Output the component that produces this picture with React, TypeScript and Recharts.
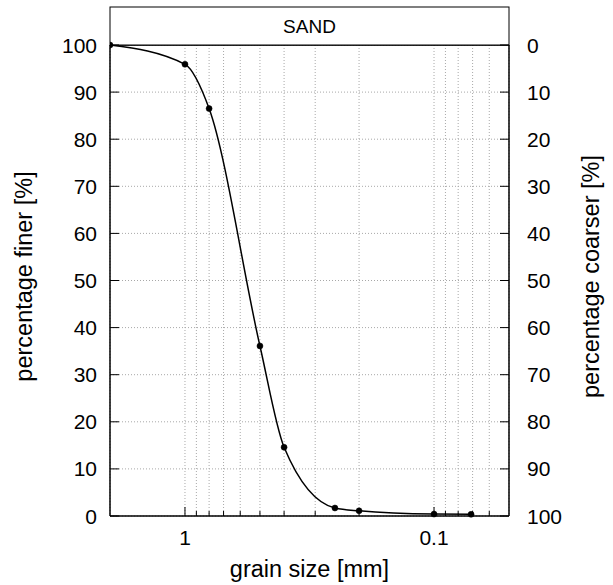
import React from 'react';
import { LineChart, Line, XAxis, YAxis, CartesianGrid } from 'recharts';

// sieve sizes [mm] and passing percentages
const grainSizes = [2, 1, 0.8, 0.5, 0.4, 0.25, 0.2, 0.1, 0.071];
const percentFiner = [100, 95.9, 86.5, 36.1, 14.6, 1.7, 1.1, 0.4, 0.35];

const majorTicks = [1, 0.1];
const minorTicks = [0.9, 0.8, 0.7, 0.6, 0.5, 0.4, 0.3, 0.2, 0.09, 0.08, 0.07, 0.06];
const percentTicks = [0, 10, 20, 30, 40, 50, 60, 70, 80, 90, 100];
const bandTitle = 'SAND';

const FONT = '"Liberation Sans", Arial, Helvetica, sans-serif';
const TICK_SIZE = 21;
const TITLE_SIZE = 23.5;
const BAND_SIZE = 19;

const data = grainSizes.map((size, i) => ({ size, finer: percentFiner[i] }));
const sizeTicks = [...majorTicks, ...minorTicks].sort((a, b) => b - a);

const isMajor = (v: number) => majorTicks.includes(v);

const BottomTick = ({ x, y, payload }: any) => (
  <g>
    <line x1={x} x2={x} y1={y} y2={y - (isMajor(payload.value) ? 9 : 5)} stroke="#000" strokeWidth={1} />
    {isMajor(payload.value) && (
      <text x={x} y={y + 29} textAnchor="middle" fontFamily={FONT} fontSize={TICK_SIZE} fill="#000">
        {payload.value}
      </text>
    )}
  </g>
);

const TopTick = ({ x, y, payload }: any) => (
  <line x1={x} x2={x} y1={y} y2={y + (isMajor(payload.value) ? 9 : 5)} stroke="#000" strokeWidth={1} />
);

const LeftTick = ({ x, y, payload }: any) => (
  <g>
    <line x1={x} x2={x + 9} y1={y} y2={y} stroke="#000" strokeWidth={1} />
    <text x={x - 13} y={y} dy="0.36em" textAnchor="end" fontFamily={FONT} fontSize={TICK_SIZE} fill="#000">
      {payload.value}
    </text>
  </g>
);

const RightTick = ({ x, y, payload }: any) => (
  <g>
    <line x1={x} x2={x - 9} y1={y} y2={y} stroke="#000" strokeWidth={1} />
    <text x={x + 18} y={y} dy="0.36em" textAnchor="start" fontFamily={FONT} fontSize={TICK_SIZE} fill="#000">
      {payload.value}
    </text>
  </g>
);

const SandBand = ({ viewBox }: any) => {
  const { x, y, width, height } = viewBox;
  return (
    <g>
      <rect x={x} y={y} width={width} height={height} fill="#fff" stroke="#000" strokeWidth={1} />
      <text x={x + width / 2} y={y + height / 2} dy="0.36em" textAnchor="middle" fontFamily={FONT} fontSize={BAND_SIZE} fill="#000">
        {bandTitle}
      </text>
    </g>
  );
};

const VerticalTitle = (text: string, dx: number) => ({ viewBox }: any) => {
  const cx = viewBox.x + dx;
  const cy = viewBox.y + viewBox.height / 2 - 4;
  return (
    <text x={cx} y={cy} transform={`rotate(-90, ${cx}, ${cy})`} dy="0.36em" textAnchor="middle" fontFamily={FONT} fontSize={TITLE_SIZE} fill="#000">
      {text}
    </text>
  );
};

const BottomTitle = ({ viewBox }: any) => (
  <text x={viewBox.x + viewBox.width / 2} y={viewBox.y + 61} textAnchor="middle" fontFamily={FONT} fontSize={TITLE_SIZE} fill="#000">
    grain size [mm]
  </text>
);

export default function App() {
  return (
    <div style={{ position: 'absolute', left: 0, top: 0, width: 613, height: 585, background: '#fff' }}>
      <LineChart width={613} height={585} data={data} margin={{ top: 7, right: 0, bottom: 0, left: 0 }}>
        <CartesianGrid xAxisId="bottom" yAxisId="left" stroke="#a8a8a8" strokeDasharray="1 2" />
        <XAxis
          xAxisId="bottom"
          dataKey="size"
          type="number"
          scale="log"
          domain={[0.05, 2]}
          allowDataOverflow
          reversed
          ticks={sizeTicks}
          interval={0}
          height={69}
          tickSize={0}
          tickMargin={0}
          tickLine={false}
          tick={BottomTick}
          axisLine={{ stroke: '#000', strokeWidth: 1.5 }}
          label={BottomTitle}
        />
        <XAxis
          xAxisId="top"
          orientation="top"
          type="number"
          scale="log"
          domain={[0.05, 2]}
          allowDataOverflow
          reversed
          ticks={sizeTicks}
          interval={0}
          height={38}
          tickSize={0}
          tickMargin={0}
          tickLine={false}
          tick={TopTick}
          axisLine={{ stroke: '#000', strokeWidth: 1.5 }}
          label={SandBand}
        />
        <YAxis
          yAxisId="left"
          type="number"
          domain={[0, 100]}
          ticks={percentTicks}
          interval={0}
          width={110}
          tickSize={0}
          tickMargin={0}
          tickLine={false}
          tick={LeftTick}
          axisLine={{ stroke: '#000', strokeWidth: 1.5 }}
          label={VerticalTitle('percentage finer [%]', 24)}
        />
        <YAxis
          yAxisId="right"
          orientation="right"
          type="number"
          domain={[0, 100]}
          allowDataOverflow
          reversed
          ticks={percentTicks}
          interval={0}
          width={104}
          tickSize={0}
          tickMargin={0}
          tickLine={false}
          tick={RightTick}
          axisLine={{ stroke: '#000', strokeWidth: 1.5 }}
          label={VerticalTitle('percentage coarser [%]', 82)}
        />
        <Line
          xAxisId="bottom"
          yAxisId="left"
          type="monotone"
          dataKey="finer"
          stroke="#000"
          strokeWidth={1.5}
          dot={{ r: 3, fill: '#000', stroke: '#000', strokeWidth: 0.5 }}
          isAnimationActive={false}
        />
      </LineChart>
    </div>
  );
}
